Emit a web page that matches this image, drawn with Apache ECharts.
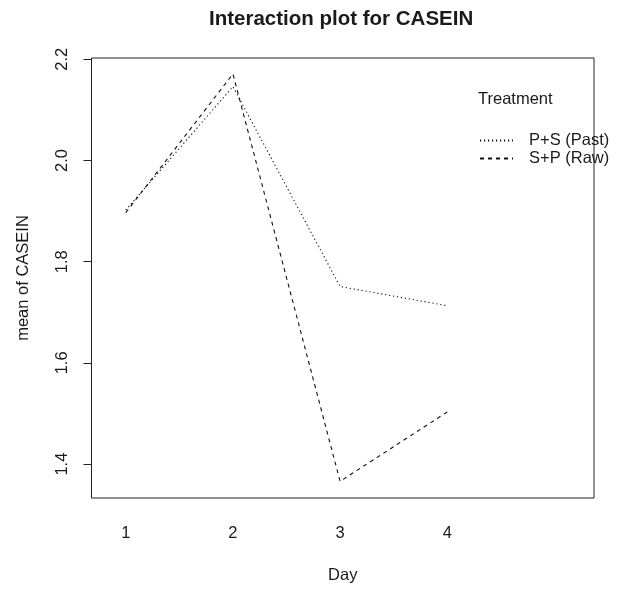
<!DOCTYPE html>
<html>
<head>
<meta charset="utf-8">
<script src="https://cdn.jsdelivr.net/npm/echarts@6/dist/echarts.min.js"></script>
<style>
html,body{margin:0;padding:0;background:#fff;}
#chart{width:632px;height:589px;}
</style>
</head>
<body>
<div id="chart"></div>
<script>
// ---- data ----
const days = [1, 2, 3, 4];
const dayLabels = ['1', '2', '3', '4'];
const yTicks = [1.4, 1.6, 1.8, 2.0, 2.2];
const seriesNames = ['P+S (Past)', 'S+P (Raw)'];
const pastValues = [1.902, 2.146, 1.751, 1.713];
const rawValues = [1.897, 2.171, 1.366, 1.503];

const FONT = '"Liberation Sans", Arial, Helvetica, sans-serif';
const INK = '#1a1a1a';

const chart = echarts.init(document.getElementById('chart'), null, {renderer: 'canvas'});

function pairs(xs, ys) { return xs.map((x, i) => [x, ys[i]]); }

const option = {
  backgroundColor: '#fff',
  animation: false,
  title: {
    text: 'Interaction plot for CASEIN',
    left: 209,
    top: 9,
    padding: 0,
    textStyle: {fontFamily: FONT, fontWeight: 'bold', fontSize: 20.5, color: INK}
  },
  grid: {
    left: 91.5, right: 38, top: 58, bottom: 90,
    show: true, borderColor: '#222', borderWidth: 1, backgroundColor: 'transparent'
  },
  xAxis: {
    type: 'value',
    min: 0.68, max: 5.37,
    axisLine: {show: false},
    axisTick: {show: false},
    splitLine: {show: false},
    axisLabel: {
      customValues: days,
      formatter: (v) => dayLabels[days.indexOf(v)] ?? '',
      margin: 27,
      fontFamily: FONT, fontSize: 16.5, color: INK
    },
    name: 'Day',
    nameLocation: 'middle',
    nameGap: 69,
    nameTextStyle: {fontFamily: FONT, fontSize: 16.5, color: INK}
  },
  yAxis: {
    type: 'value',
    min: 1.333, max: 2.2026,
    axisLine: {show: false},
    splitLine: {show: false},
    axisTick: {show: true, customValues: yTicks, length: 8, lineStyle: {color: '#222', width: 1}},
    axisLabel: {
      customValues: yTicks,
      rotate: 90,
      margin: 21,
      formatter: (v) => v.toFixed(1),
      fontFamily: FONT, fontSize: 16.5, color: INK
    },
    name: 'mean of CASEIN',
    nameLocation: 'middle',
    nameGap: 60,
    nameTextStyle: {fontFamily: FONT, fontSize: 16.5, color: INK}
  },
  legend: {
    orient: 'vertical',
    left: 479,
    top: 132,
    padding: 0,
    itemWidth: 33,
    itemHeight: 14,
    itemGap: 1,
    data: seriesNames,
    itemStyle: {color: 'rgba(0,0,0,0)', borderColor: 'rgba(0,0,0,0)', borderWidth: 0},
    textStyle: {fontFamily: FONT, fontSize: 16.5, color: INK, padding: [0, 0, 0, 11]}
  },
  graphic: [{
    type: 'text',
    left: 478,
    top: 91,
    style: {text: 'Treatment', font: '16.5px ' + FONT, fill: INK}
  }],
  series: [
    {
      name: seriesNames[0],
      type: 'line',
      data: pairs(days, pastValues),
      symbol: 'none',
      lineStyle: {color: '#111', width: 1.1, type: [1.2, 2.8]},
      itemStyle: {color: '#111'}
    },
    {
      name: seriesNames[1],
      type: 'line',
      data: pairs(days, rawValues),
      symbol: 'none',
      lineStyle: {color: '#111', width: 1.1, type: [4, 4]},
      itemStyle: {color: '#111'}
    }
  ]
};
chart.setOption(option);
</script>
</body>
</html>
